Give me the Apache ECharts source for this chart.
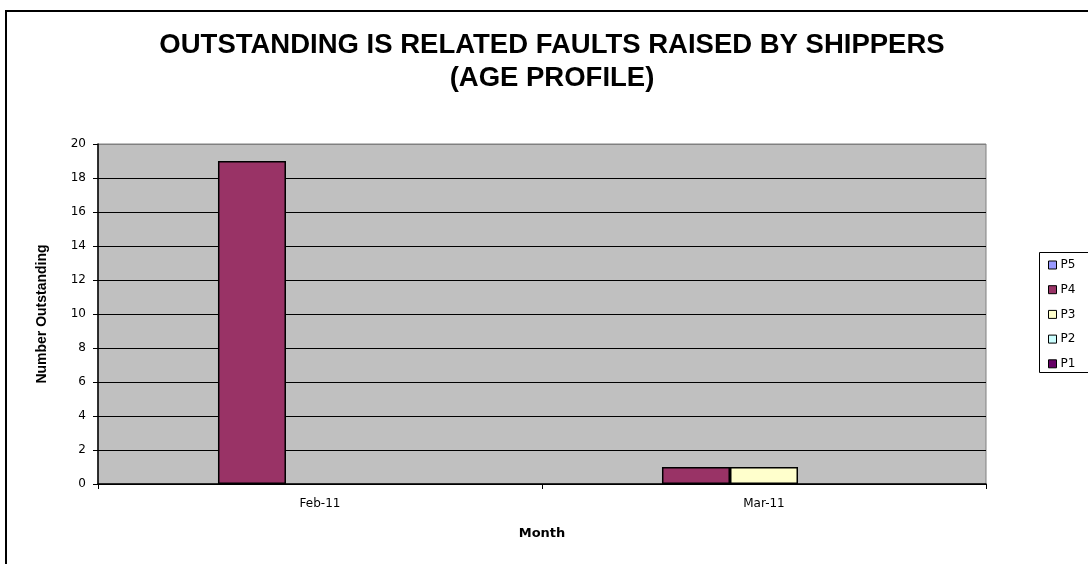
<!DOCTYPE html>
<html>
<head>
<meta charset="utf-8">
<script src="https://cdn.jsdelivr.net/npm/echarts@6/dist/echarts.min.js"></script>
<style>
	html, body { margin: 0; padding: 0; background: #fff; }
	#chart { width: 1088px; height: 564px; }
</style>
</head>
<body>
<div id="chart"></div>
<script>
// months on the x axis
var months = ['Feb-11', 'Mar-11'];
// series in plot order (Excel draws P5 first)
var seriesNames = ['P5', 'P4', 'P3', 'P2', 'P1'];
var seriesColors = ['#9999FF', '#993366', '#FFFFCC', '#CCFFFF', '#660066'];
var p5 = ['-', '-'];
var p4 = [19, 1];
var p3 = ['-', 1];
var p2 = ['-', '-'];
var p1 = ['-', '-'];
var yTicks = [0, 2, 4, 6, 8, 10, 12, 14, 16, 18, 20];

var seriesData = [p5, p4, p3, p2, p1];

let myChart = echarts.init(document.getElementById('chart'));

let series = [];
for (let i = 0; i < seriesNames.length; i++) {
	series.push({
		name: seriesNames[i],
		type: 'bar',
		data: seriesData[i],
		barGap: '0%',
		barCategoryGap: '23.4%',
		itemStyle: {
			color: seriesColors[i],
			borderColor: '#000',
			borderWidth: 1.5
		}
	});
}

// split line colours: black except the top one (plot border is grey)
let splitColors = yTicks.map(function (v, k) {
	return k == yTicks.length - 1 ? '#808080' : '#000';
});

let option = {
	animation: false,
	backgroundColor: '#fff',
	graphic: [{
		type: 'rect',
		shape: { x: 6, y: 11, width: 1100, height: 600 },
		style: { fill: 'none', stroke: '#000', lineWidth: 2 },
		z: 0
	}, {
		type: 'rect',
		shape: { x: 1039.5, y: 252.5, width: 80, height: 120 },
		style: { fill: '#fff', stroke: '#000', lineWidth: 1 },
		z: 0
	}, {
		type: 'text',
		x: 552,
		y: 29,
		style: {
			text: 'OUTSTANDING IS RELATED FAULTS RAISED BY SHIPPERS\n(AGE PROFILE)',
			fontFamily: 'Liberation Sans, Arial, sans-serif',
			fontWeight: 'bold',
			fontSize: 27.5,
			lineHeight: 33,
			align: 'center',
			fill: '#000'
		}
	}],
	legend: {
		orient: 'vertical',
		left: 1048,
		top: 258,
		padding: 0,
		itemWidth: 8,
		itemHeight: 8,
		itemGap: 10.7,
		data: seriesNames.map(function (n) {
			return { name: n, icon: 'rect' };
		}),
		itemStyle: { borderColor: '#000', borderWidth: 1 },
		textStyle: {
			fontFamily: 'DejaVu Sans, sans-serif',
			fontSize: 12,
			lineHeight: 14,
			color: '#000',
			padding: [0, 0, 0, -1]
		}
	},
	grid: {
		left: 98,
		right: 102,
		top: 144,
		bottom: 80,
		show: true,
		backgroundColor: '#C0C0C0',
		borderColor: '#808080',
		borderWidth: 1
	},
	xAxis: {
		type: 'category',
		data: months,
		name: 'Month',
		nameLocation: 'middle',
		nameGap: 43,
		nameTextStyle: {
			fontFamily: 'DejaVu Sans, sans-serif',
			fontWeight: 'bold',
			fontSize: 13,
			color: '#000'
		},
		axisLine: { lineStyle: { color: '#000', width: 1.5 } },
		axisTick: { show: true, length: 5, alignWithLabel: false, lineStyle: { color: '#000' } },
		axisLabel: {
			margin: 14,
			fontFamily: 'DejaVu Sans, sans-serif',
			fontSize: 12,
			color: '#000'
		}
	},
	yAxis: {
		type: 'value',
		min: 0,
		max: 20,
		interval: 2,
		name: 'Number Outstanding',
		nameLocation: 'middle',
		nameGap: 49,
		nameTextStyle: {
			fontFamily: 'Liberation Sans Narrow, sans-serif',
			fontWeight: 'bold',
			fontSize: 14,
			color: '#000'
		},
		axisLine: { show: true, lineStyle: { color: '#000', width: 1.5 } },
		axisTick: { show: true, length: 5, lineStyle: { color: '#000' } },
		axisLabel: {
			margin: 12,
			fontFamily: 'DejaVu Sans, sans-serif',
			fontSize: 12,
			color: '#000'
		},
		splitLine: { show: true, lineStyle: { color: splitColors, width: 1.2 } }
	},
	series: series
};
option && myChart.setOption(option);
</script>
</body>
</html>
